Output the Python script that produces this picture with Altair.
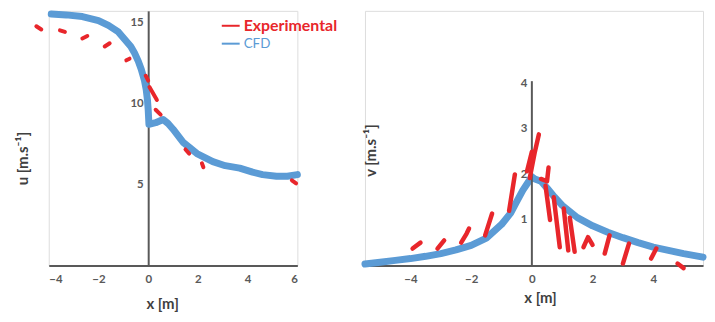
import altair as alt
import pandas as pd

# ---------------- data ----------------
# Left panel: u velocity
u_cfd_x = [-3.9, -3.3, -2.65, -2.0, -1.6, -1.2, -0.95, -0.7, -0.55, -0.4, -0.28, -0.15, -0.08, -0.03, 0.0,
           0.03, 0.3, 0.6, 0.8, 1.0, 1.4, 1.96, 2.6, 3.1, 3.68, 4.2, 4.6, 5.16, 5.6, 6.0]
u_cfd_u = [15.5, 15.45, 15.35, 15.1, 14.8, 14.4, 13.95, 13.5, 13.1, 12.6, 12.1, 11.4, 10.85, 10.2, 9.6,
           8.7, 8.8, 9.0, 8.75, 8.4, 7.6, 6.9, 6.4, 6.15, 6.0, 5.75, 5.6, 5.5, 5.5, 5.6]

u_exp_g = [1, 1, 2, 2, 3, 3, 4, 4, 5, 5, 6, 6, 7, 7, 8, 8, 9, 9, 10, 10, 11, 11]
u_exp_x = [-4.5, -4.3, -3.55, -3.35, -2.65, -2.45, -1.75, -1.55, -0.88, -0.75, -0.1, 0.0,
           0.05, 0.35, 0.3, 0.5, 1.5, 1.65, 2.16, 2.22, 5.78, 5.95]
u_exp_u = [14.75, 14.55, 14.5, 14.4, 14.0, 14.15, 13.5, 13.7, 12.65, 12.75, 11.7, 11.4,
           11.0, 10.2, 9.6, 9.3, 7.15, 6.9, 6.3, 6.05, 5.25, 5.06]

# Right panel: v velocity
v_cfd_x = [-5.5, -5.0, -4.5, -4.0, -3.5, -3.0, -2.5, -2.0, -1.5, -1.0, -0.7, -0.5, -0.3, -0.15, 0.0,
           0.1, 0.3, 0.5, 0.75, 1.0, 1.5, 2.0, 2.5, 3.0, 3.5, 4.0, 4.5, 5.0, 5.5, 5.64]
v_cfd_v = [0.03, 0.07, 0.11, 0.15, 0.2, 0.26, 0.34, 0.44, 0.6, 0.9, 1.15, 1.4, 1.65, 1.8, 1.95,
           1.9, 1.85, 1.7, 1.5, 1.32, 1.05, 0.87, 0.73, 0.61, 0.5, 0.4, 0.33, 0.26, 0.2, 0.18]

v_exp_g = [1, 1, 2, 2, 3, 3, 3, 4, 4, 5, 5, 6, 6, 7, 7, 7, 8, 8, 8, 9, 9, 10, 10, 11, 11, 12, 12,
           13, 13, 13, 14, 14, 15, 15, 16, 16, 17, 17]
v_exp_x = [-3.93, -3.67, -3.11, -2.89, -2.33, -2.15, -2.07, -1.54, -1.31, -0.75, -0.56, -0.16, 0.0,
           -0.07, 0.1, 0.23, 0.3, 0.5, 0.55, 0.45, 0.6, 0.72, 0.92, 1.05, 1.2, 1.25, 1.41,
           1.7, 1.85, 2.0, 2.4, 2.56, 3.0, 3.2, 3.93, 4.1, 4.8, 5.0]
v_exp_v = [0.37, 0.5, 0.37, 0.55, 0.5, 0.7, 0.81, 0.66, 1.14, 1.2, 2.0, 2.07, 2.5,
           1.92, 2.5, 2.88, 1.9, 1.85, 2.15, 1.75, 1.0, 1.5, 0.4, 1.25, 0.33, 1.05, 0.3,
           0.4, 0.62, 0.45, 0.26, 0.66, 0.04, 0.48, 0.15, 0.37, 0.04, -0.06]

legend_labels = ["Experimental", "CFD"]

# ---------------- style ----------------
RED = "#E8262B"
BLUE = "#5B9BD5"
AXIS = "#595959"
TXT = "#404040"
FONT = "Lato"

W1, W2, H = 250, 340, 256
X1 = [-4, 6]
X2 = [-5.5, 5.64]
Y1 = [0, 15.7]
Y2 = [0, 4 * 256 / 183]

u_cfd_df = pd.DataFrame({"x": u_cfd_x, "u": u_cfd_u})
u_exp_df = pd.DataFrame({"g": u_exp_g, "x": u_exp_x, "u": u_exp_u})
v_cfd_df = pd.DataFrame({"x": v_cfd_x, "v": v_cfd_v})
v_exp_df = pd.DataFrame({"g": v_exp_g, "x": v_exp_x, "v": v_exp_v, "o": list(range(len(v_exp_g)))})
u_exp_df["o"] = list(range(len(u_exp_g)))


def xaxis(vals, tx, ty):
    return alt.Axis(values=vals, title="x [m]", grid=False, ticks=False,
                    domainColor=AXIS, domainWidth=2, labelColor=AXIS, labelFont=FONT,
                    labelFontSize=11.5, labelFontWeight="bold", labelPadding=8,
                    titleFont=FONT, titleFontSize=15, titleFontWeight="bold", titleColor=TXT,
                    titleX=tx, titleY=ty, titleBaseline="middle")


def yaxis(vals, title, off, tx, ty, dom=True):
    return alt.Axis(values=vals, title=title, grid=False, ticks=False, offset=off,
                    domain=dom, domainColor=AXIS, domainWidth=2, labelColor=AXIS, labelFont=FONT,
                    labelFontSize=11.5, labelFontWeight="bold", labelPadding=5,
                    titleFont=FONT, titleFontSize=15, titleFontWeight="bold", titleColor=TXT,
                    titleX=tx, titleY=ty, titleAngle=-90, titleAlign="center",
                    titleBaseline="middle")


xs1 = alt.Scale(domain=X1, nice=False, zero=False)
ys1 = alt.Scale(domain=Y1, nice=False)
xs2 = alt.Scale(domain=X2, nice=False, zero=False)
ys2 = alt.Scale(domain=Y2, nice=False)

off1 = -(0 - X1[0]) / (X1[1] - X1[0]) * W1
off2 = -(0 - X2[0]) / (X2[1] - X2[0]) * W2

u_line = alt.Chart(u_cfd_df).mark_line(color=BLUE, strokeWidth=7, strokeCap="round", strokeJoin="round").encode(
    x=alt.X("x:Q", scale=xs1, axis=xaxis([-4, -2, 0, 2, 4, 6], 114, 38)),
    y=alt.Y("u:Q", scale=ys1, axis=yaxis([5, 10, 15], "u [m.s⁻¹]", off1, -126, 148)),
    order="x:Q",
)
u_exp = alt.Chart(u_exp_df).mark_line(color=RED, strokeWidth=4, strokeCap="round").encode(
    x="x:Q", y="u:Q", detail="g:N", order="o:Q"
)

one = alt.Data(values=[{"a": 1}])
leg = []
for i, (lab, col) in enumerate(zip(legend_labels, [RED, BLUE])):
    yy = 15 + 18 * i
    leg.append(alt.Chart(one).mark_rule(color=col, strokeWidth=2).encode(
        x=alt.value(174), x2=alt.value(192), y=alt.value(yy)))
    leg.append(alt.Chart(one).mark_text(color=col, align="left", baseline="middle", font=FONT,
                                        fontSize=16 if i == 0 else 13.5,
                                        fontWeight="bold" if i == 0 else "normal").encode(
        x=alt.value(196), y=alt.value(yy), text=alt.value(lab)))

left = alt.layer(u_line, u_exp, *leg).properties(width=W1, height=H)

v_line = alt.Chart(v_cfd_df).mark_line(color=BLUE, strokeWidth=7, strokeCap="round", strokeJoin="round").encode(
    x=alt.X("x:Q", scale=xs2, axis=xaxis([-4, -2, 0, 2, 4], 176, 32)),
    y=alt.Y("v:Q", scale=ys2, axis=yaxis([1, 2, 3, 4], "v [m.s⁻¹]", off2, -162, 140, dom=False)),
    order="x:Q",
)
v_axis_line = alt.Chart(alt.Data(values=[{"x": 0, "y0": 0, "y1": 4.05}])).mark_rule(
    color=AXIS, strokeWidth=2).encode(x="x:Q", y="y0:Q", y2="y1:Q")
v_exp = alt.Chart(v_exp_df).mark_line(color=RED, strokeWidth=4.5, strokeCap="round", strokeJoin="round").encode(
    x="x:Q", y="v:Q", detail="g:N", order="o:Q"
)
right = alt.layer(v_line, v_axis_line, v_exp).properties(width=W2, height=H)

chart = alt.hconcat(left, right, spacing=68, bounds="flush").properties(
    padding={"left": 7, "top": 1, "right": 0, "bottom": 0}
).configure_view(stroke=None).configure(background="white")

chart.save("out.html", embed_options={"renderer": "svg", "actions": False})
